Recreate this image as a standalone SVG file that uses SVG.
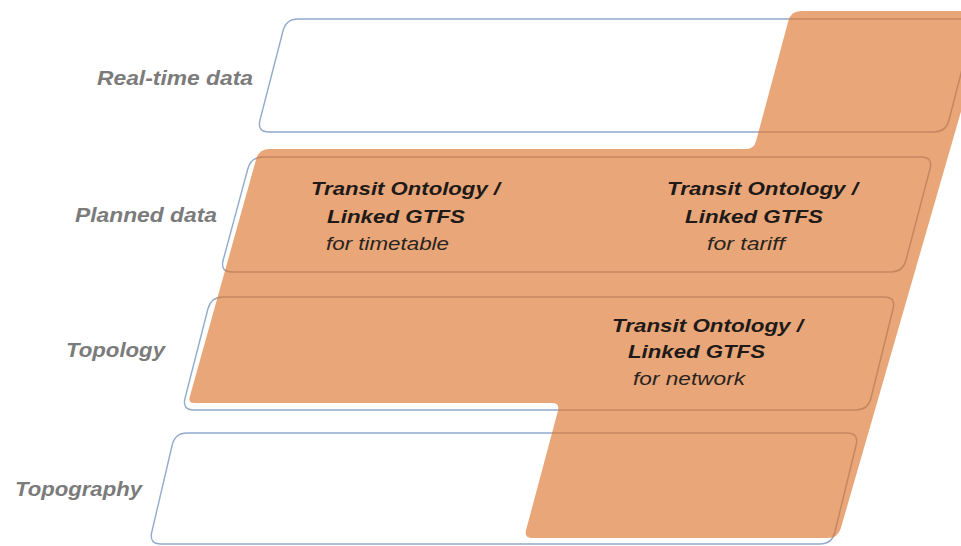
<svg xmlns="http://www.w3.org/2000/svg" xmlns:xlink="http://www.w3.org/1999/xlink" width="961" height="546" viewBox="0 0 961 546">
  <style>
    .layer { fill: #ffffff; stroke: #93abcb; stroke-width: 1.4; }
    .layer-inner { fill: none; stroke: #c58760; stroke-width: 1.5; }
    .coverage { fill: #e9a678; stroke: none; }
    .label { font-family: "Liberation Sans", Arial, sans-serif; font-size: 21px; font-weight: bold; font-style: italic; fill: #7b7b7b; }
    .title { font-family: "Liberation Sans", Arial, sans-serif; font-size: 19px; font-weight: bold; font-style: italic; fill: #1e1a18; }
    .sub { font-family: "Liberation Sans", Arial, sans-serif; font-size: 19px; font-style: italic; fill: #2a2420; }
  </style>
  <defs>
    <!-- slanted rounded layer outlines -->
    <path id="shape-realtime" d="M298,19 H963 Q975,19 972,31 L949,120 Q946,132 934,132 H269 Q257,132 260,120 L283,31 Q286,19 298,19 Z"/>
    <path id="shape-planned" d="M263,157 H921 Q933,157 930,169 L906,260 Q903,272 891,272 H232 Q220,272 223.2,260 L247.8,169 Q251,157 263,157 Z"/>
    <path id="shape-topology" d="M223,297 H884 Q896,297 893,309 L871,398 Q868,410 856,410 H194 Q182,410 185.1,398 L207.9,309 Q211,297 223,297 Z"/>
    <path id="shape-topography" d="M187,433 H847 Q859,433 856.1,445 L834.9,532 Q832,544 820,544 H161 Q149,544 151.8,532 L172.2,445 Q175,433 187,433 Z"/>
    <!-- area covered by Transit Ontology / Linked GTFS -->
    <path id="shape-coverage" d="M801,11 H990 L840.9,528 Q838,538 828,538 H532 Q524,538 526.1,530 L557.9,411 Q560,403 552,403 H194 Q188,403 189.7,397 L256.2,159 Q259,149 269,149 H746 Q754,149 756.1,141 L788.3,21 Q791,11 801,11 Z"/>
    <clipPath id="clip-coverage">
      <use xlink:href="#shape-coverage"/>
    </clipPath>
  </defs>

  <rect x="0" y="0" width="961" height="546" fill="#ffffff"/>

  <g id="layer-realtime">
    <use xlink:href="#shape-realtime" class="layer"/>
    <text class="label" x="97" y="85" textLength="156" lengthAdjust="spacingAndGlyphs">Real-time data</text>
  </g>
  <g id="layer-planned">
    <use xlink:href="#shape-planned" class="layer"/>
    <text class="label" x="75" y="222" textLength="142" lengthAdjust="spacingAndGlyphs">Planned data</text>
  </g>
  <g id="layer-topology">
    <use xlink:href="#shape-topology" class="layer"/>
    <text class="label" x="66" y="357" textLength="99" lengthAdjust="spacingAndGlyphs">Topology</text>
  </g>
  <g id="layer-topography">
    <use xlink:href="#shape-topography" class="layer"/>
    <text class="label" x="15" y="496" textLength="127" lengthAdjust="spacingAndGlyphs">Topography</text>
  </g>

  <g id="gtfs-coverage">
    <use xlink:href="#shape-coverage" class="coverage"/>
    <!-- layer edges seen through the covered area -->
    <g clip-path="url(#clip-coverage)">
      <use xlink:href="#shape-realtime" class="layer-inner"/>
      <use xlink:href="#shape-planned" class="layer-inner"/>
      <use xlink:href="#shape-topology" class="layer-inner"/>
      <use xlink:href="#shape-topography" class="layer-inner"/>
    </g>
  </g>

  <g id="gtfs-timetable">
    <text class="title" x="311" y="195" textLength="189" lengthAdjust="spacingAndGlyphs">Transit Ontology /</text>
    <text class="title" x="327" y="223" textLength="138" lengthAdjust="spacingAndGlyphs">Linked GTFS</text>
    <text class="sub" x="326" y="250" textLength="123" lengthAdjust="spacingAndGlyphs">for timetable</text>
  </g>
  <g id="gtfs-tariff">
    <text class="title" x="667" y="195" textLength="191" lengthAdjust="spacingAndGlyphs">Transit Ontology /</text>
    <text class="title" x="685" y="223" textLength="138" lengthAdjust="spacingAndGlyphs">Linked GTFS</text>
    <text class="sub" x="707" y="250" textLength="78" lengthAdjust="spacingAndGlyphs">for tariff</text>
  </g>
  <g id="gtfs-network">
    <text class="title" x="612" y="332" textLength="191" lengthAdjust="spacingAndGlyphs">Transit Ontology /</text>
    <text class="title" x="628" y="358" textLength="137" lengthAdjust="spacingAndGlyphs">Linked GTFS</text>
    <text class="sub" x="633" y="385" textLength="112" lengthAdjust="spacingAndGlyphs">for network</text>
  </g>
</svg>
